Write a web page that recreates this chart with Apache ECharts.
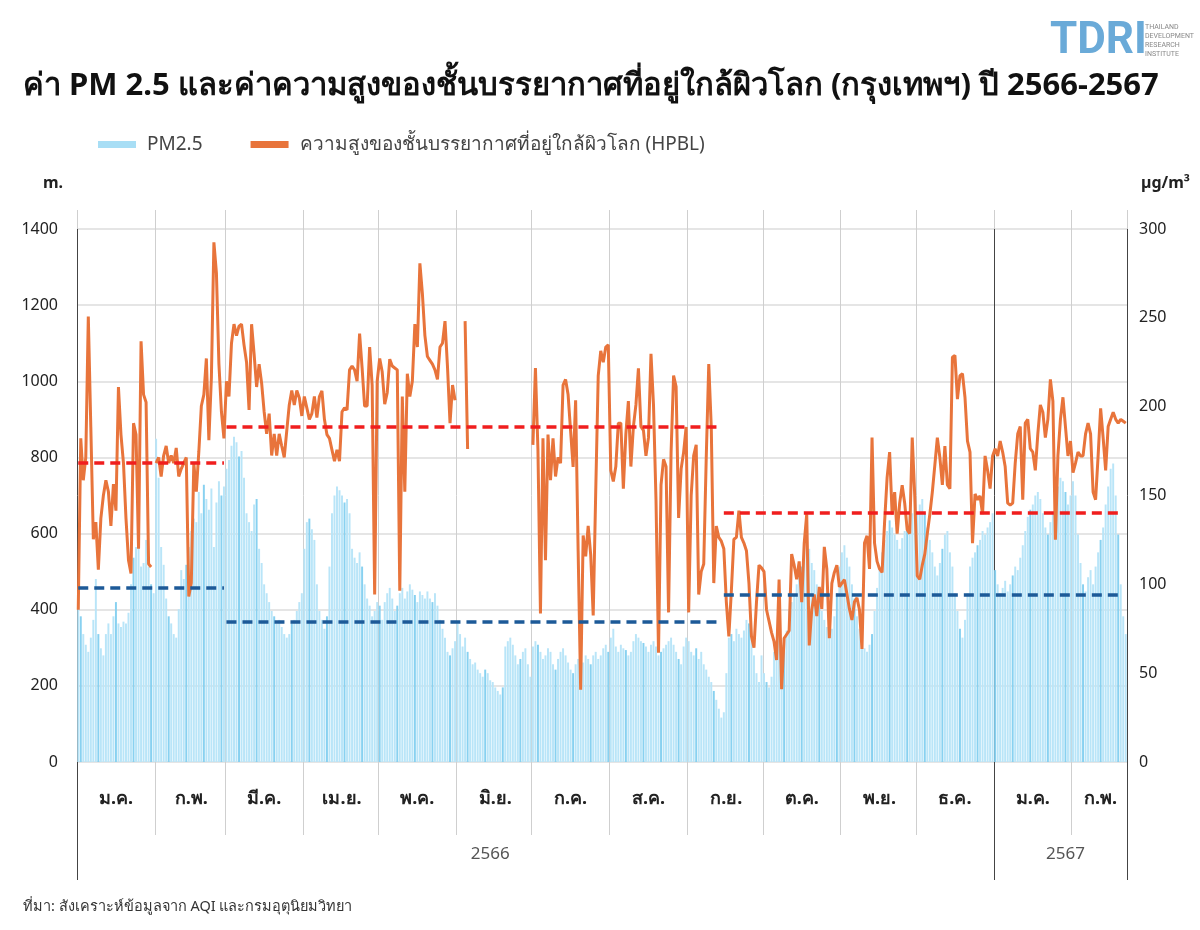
<!DOCTYPE html>
<html>
<head>
<meta charset="utf-8">
<title>PM2.5 และ HPBL กรุงเทพฯ 2566-2567</title>
<script src="https://cdn.jsdelivr.net/npm/echarts@6.0.0/dist/echarts.min.js"></script>
<style>
  html, body { margin: 0; padding: 0; background: #fff; }
  #chart { width: 1200px; height: 930px; }
</style>
</head>
<body>
<div id="chart"></div>
<script>
// เดือน (ม.ค. 2566 - ก.พ. 2567) และจำนวนวันที่มีข้อมูล
const monthNames = ['ม.ค.', 'ก.พ.', 'มี.ค.', 'เม.ย.', 'พ.ค.', 'มิ.ย.', 'ก.ค.', 'ส.ค.', 'ก.ย.', 'ต.ค.', 'พ.ย.', 'ธ.ค.', 'ม.ค.', 'ก.พ.']
const monthDays = [31, 28, 31, 30, 31, 30, 31, 31, 30, 31, 30, 31, 31, 22]
const monthYear = ['2566', '2566', '2566', '2566', '2566', '2566', '2566', '2566', '2566', '2566', '2566', '2566', '2567', '2567']
const yearNames = ['2566', '2567']

// ความสูงของชั้นบรรยากาศที่อยู่ใกล้ผิวโลก (เมตร) รายวัน
const hpblJan23 = [400, 850, 740, 800, 1170, 880, 585, 630, 505, 640, 700, 740, 710, 620, 730, 660, 985, 860, 785, 640, 530, 495, 890, 860, 560, 1105, 965, 945, 520, 512, null]
const hpblFeb23 = [785, 800, 750, 805, 830, 785, 805, 785, 825, 750, 770, 785, 800, 435, 470, 785, 710, 815, 935, 965, 1060, 845, 1010, 1365, 1285, 1045, 920, 850]
const hpblMar23 = [1000, 960, 1100, 1150, 1120, 1145, 1150, 1095, 1050, 925, 1150, 1072, 985, 1045, 995, 920, 862, 915, 805, 862, 805, 862, 830, 800, 870, 938, 976, 938, 976, 957, 909]
const hpblApr23 = [960, 930, 900, 915, 960, 905, 960, 975, 900, 860, 850, 820, 790, 820, 790, 920, 930, 925, 1030, 1040, 1030, 1000, 1125, 1035, 935, 935, 1090, 990, 440, 1000]
const hpblMay23 = [1060, 1025, 940, 970, 1058, 1040, 1035, 1030, 450, 960, 710, 1020, 960, 1000, 1150, 1090, 1310, 1230, 1120, 1065, 1055, 1045, 1030, 1005, 1090, 1100, 1158, 1037, 890, 990, 950]
const hpblJun23 = [null, null, null, 1158, 822, null, null, null, null, null, null, null, null, null, null, null, null, null, null, null, null, null, null, null, null, null, null, null, null, null]
const hpblJul23 = [833, 1035, 820, 390, 850, 530, 860, 740, 850, 750, 800, 785, 990, 1005, 965, 870, 775, 950, 555, 190, 595, 540, 620, 545, 385, 710, 1015, 1080, 1050, 1090, 1096]
const hpblAug23 = [766, 737, 776, 890, 890, 718, 862, 948, 776, 881, 938, 1034, 881, 871, 804, 852, 1072, 938, 689, 287, 728, 795, 776, 393, 814, 1015, 986, 641, 770, 814, 880]
const hpblSep23 = [393, 700, 805, 833, 440, 500, 520, 800, 1045, 880, 470, 620, 590, 580, 560, 420, 330, 450, 585, 590, 660, 590, 575, 555, 470, 330, 300, 420, 517, 510]
const hpblOct23 = [500, 400, 370, 340, 316, 268, 479, 191, 325, 335, 345, 546, 517, 480, 527, 420, 575, 651, 306, 400, 440, 383, 460, 402, 565, 507, 325, 469, 498, 517, 460]
const hpblNov23 = [470, 479, 441, 402, 373, 421, 431, 400, 297, 575, 594, 507, 852, 575, 527, 507, 498, 630, 747, 814, 650, 709, 600, 680, 727, 680, 610, 600, 852, 700]
const hpblDec23 = [489, 480, 517, 546, 600, 650, 709, 780, 852, 800, 728, 830, 728, 718, 1063, 1068, 953, 1015, 1020, 958, 843, 814, 575, 704, 689, 699, 651, 804, 766, 718, 804]
const hpblJan24 = [823, 804, 843, 814, 776, 680, 675, 680, 785, 862, 881, 689, 890, 900, 823, 814, 766, 862, 938, 919, 852, 900, 1005, 948, 584, 804, 900, 958, 881, 804, 843]
const hpblFeb24 = [760, 785, 814, 804, 804, 862, 890, 862, 709, 689, 804, 929, 852, 766, 881, 900, 919, 900, 890, 900, 895, 890]

// PM2.5 (µg/m³) รายวัน
const pmJan23 = [90, 82, 72, 66, 62, 70, 80, 103, 72, 64, 60, 72, 78, 72, 82, 90, 78, 76, 79, 78, 84, 100, 115, 121, 127, 110, 112, 125, 110, 100, 95]
const pmFeb23 = [182, 160, 121, 111, 92, 82, 78, 72, 70, 86, 108, 103, 111, 121, 130, 137, 135, 152, 140, 156, 148, 142, 154, 121, 146, 158, 150, 155]
const pmMar23 = [165, 170, 178, 183, 180, 172, 175, 160, 140, 135, 130, 145, 148, 120, 112, 100, 95, 90, 85, 82, 78, 80, 76, 72, 70, 72, 78, 80, 85, 90, 95]
const pmApr23 = [120, 135, 137, 131, 125, 100, 85, 80, 75, 82, 110, 140, 150, 155, 153, 150, 146, 148, 140, 120, 115, 112, 118, 110, 100, 92, 88, 82, 85, 90]
const pmMay23 = [88, 80, 90, 95, 98, 92, 85, 88, 95, 98, 92, 96, 100, 97, 94, 90, 96, 94, 92, 96, 92, 90, 95, 88, 80, 75, 70, 62, 60, 64, 68]
const pmJun23 = [78, 72, 65, 70, 62, 58, 55, 56, 52, 50, 48, 52, 50, 46, 45, 42, 40, 38, 42, 65, 68, 70, 66, 60, 55, 58, 62, 64, 55, 48]
const pmJul23 = [65, 68, 66, 62, 58, 60, 64, 62, 55, 52, 58, 62, 64, 60, 56, 52, 50, 55, 58, 54, 56, 60, 58, 55, 60, 62, 58, 60, 64, 66, 62]
const pmAug23 = [70, 75, 65, 62, 66, 64, 63, 60, 62, 68, 72, 70, 68, 67, 65, 62, 66, 68, 65, 60, 62, 64, 66, 68, 70, 66, 62, 58, 55, 65, 70]
const pmSep23 = [68, 62, 60, 64, 58, 62, 55, 52, 48, 45, 40, 35, 30, 25, 28, 50, 70, 72, 68, 75, 72, 70, 74, 80, 78, 70, 60, 50, 45, 60]
const pmOct23 = [50, 45, 42, 48, 62, 68, 72, 66, 70, 74, 85, 90, 94, 100, 105, 110, 118, 122, 120, 112, 108, 100, 92, 85, 80, 76, 72, 75, 82, 95, 110]
const pmNov23 = [118, 122, 115, 110, 100, 92, 82, 75, 68, 64, 62, 66, 72, 85, 98, 110, 118, 125, 130, 136, 132, 128, 125, 120, 126, 130, 134, 138, 140, 142]
const pmDec23 = [140, 145, 148, 140, 132, 125, 118, 110, 105, 112, 120, 128, 130, 118, 110, 95, 85, 75, 70, 80, 95, 110, 115, 118, 122, 125, 130, 128, 132, 135, 140]
const pmJan24 = [108, 100, 95, 98, 102, 96, 100, 105, 110, 108, 115, 122, 130, 138, 142, 145, 150, 152, 148, 140, 132, 128, 135, 140, 148, 155, 160, 158, 152, 145, 150]
const pmFeb24 = [158, 150, 128, 112, 100, 96, 104, 108, 100, 110, 118, 125, 132, 145, 155, 165, 168, 150, 128, 100, 82, 72]

// ค่าเฉลี่ยแต่ละช่วง (index วันเริ่ม/สิ้นสุด)
const periodStart = [0, 59, 257]
const periodEnd = [58, 256, 414]
const hpblAvg = [785, 880, 654]
const pmAvg = [98, 79, 94]

const hpbl = [].concat(hpblJan23, hpblFeb23, hpblMar23, hpblApr23, hpblMay23, hpblJun23, hpblJul23,
  hpblAug23, hpblSep23, hpblOct23, hpblNov23, hpblDec23, hpblJan24, hpblFeb24)
const pm25 = [].concat(pmJan23, pmFeb23, pmMar23, pmApr23, pmMay23, pmJun23, pmJul23,
  pmAug23, pmSep23, pmOct23, pmNov23, pmDec23, pmJan24, pmFeb24)

// แกน x เป็นรายวัน
const days = []
const monthStarts = []
const monthMids = {}
const yearStarts = []
monthDays.forEach((n, m) => {
  monthStarts.push(days.length)
  if (m === 0 || monthYear[m] !== monthYear[m - 1]) yearStarts.push(days.length)
  monthMids[days.length + Math.floor(n / 2)] = monthNames[m]
  for (let d = 1; d <= n; d++) days.push(monthYear[m] + '-' + (m + 1) + '-' + d)
})
const yearLabels = { 164: yearNames[0], 393: yearNames[1] }

const NAME_PM = 'PM2.5'
const NAME_HPBL = 'ความสูงของชั้นบรรยากาศที่อยู่ใกล้ผิวโลก (HPBL)'
const FONT = "'Noto Sans', 'DejaVu Sans', sans-serif"

const chart = echarts.init(document.getElementById('chart'))

const option = {
  animation: false,
  backgroundColor: '#fff',
  textStyle: { fontFamily: FONT },
  title: [
    {
      text: 'ค่า PM 2.5 และค่าความสูงของชั้นบรรยากาศที่อยู่ใกล้ผิวโลก (กรุงเทพฯ) ปี 2566-2567',
      left: 18,
      top: 66,
      textStyle: { fontSize: 31, fontWeight: 'bold', color: '#111', fontFamily: FONT },
    },
    { text: 'm.', left: 38, top: 170, textStyle: { fontSize: 16, fontWeight: 'bold', color: '#222' } },
    { text: 'µg/m³', left: 1136, top: 170, textStyle: { fontSize: 16, fontWeight: 'bold', color: '#222' } },
    {
      text: 'ที่มา: สังเคราะห์ข้อมูลจาก AQI และกรมอุตุนิยมวิทยา',
      left: 18,
      top: 894,
      textStyle: { fontSize: 14.5, fontWeight: 'normal', color: '#333' },
    },
  ],
  legend: {
    left: 93,
    top: 130,
    icon: 'rect',
    itemWidth: 38,
    itemHeight: 7,
    itemGap: 48,
    textStyle: { fontSize: 19, color: '#444', padding: [0, 0, 0, 6] },
    data: [
      { name: NAME_PM, itemStyle: { color: '#a8def5' } },
      { name: NAME_HPBL, itemStyle: { color: '#e8743b' } },
    ],
  },
  graphic: [
    {
      type: 'text',
      left: 1050,
      top: 20,
      style: { text: 'TDRI', fontSize: 44, fontWeight: 'bold', fill: '#6aaad8', fontFamily: "'Liberation Sans Narrow', 'Roboto', sans-serif" },
    },
    {
      type: 'text',
      left: 1145,
      top: 23,
      style: { text: 'THAILAND\nDEVELOPMENT\nRESEARCH\nINSTITUTE', fontSize: 7, lineHeight: 9, fill: '#888', fontFamily: "'Roboto', sans-serif" },
    },
  ],
  grid: { left: 77, right: 73, top: 229, bottom: 168 },
  xAxis: [
    {
      type: 'category',
      data: days,
      position: 'bottom',
      axisLine: { show: false, onZero: false },
      axisTick: {
        show: true,
        interval: (i) => monthStarts.includes(i),
        length: 73,
        lineStyle: { color: '#cfcfcf' },
      },
      axisLabel: {
        interval: (i) => monthMids[i] !== undefined,
        formatter: (v, i) => monthMids[i] || '',
        margin: 28,
        fontSize: 18,
        fontWeight: 'bold',
        color: '#222',
      },
      splitLine: {
        show: true,
        interval: (i) => monthStarts.includes(i),
        lineStyle: { color: '#cfcfcf' },
      },
    },
    {
      type: 'category',
      data: days,
      position: 'top',
      axisLine: { show: false, onZero: false },
      axisTick: {
        show: true,
        interval: (i) => monthStarts.includes(i),
        length: 19,
        lineStyle: { color: '#cfcfcf' },
      },
      axisLabel: { show: false },
      splitLine: { show: false },
    },
    {
      type: 'category',
      data: days,
      position: 'bottom',
      axisLine: { show: false, onZero: false },
      axisTick: {
        show: true,
        interval: (i) => yearStarts.includes(i),
        length: 118,
        lineStyle: { color: '#444' },
      },
      axisLabel: {
        interval: (i) => yearLabels[i] !== undefined,
        formatter: (v, i) => yearLabels[i] || '',
        margin: 84,
        fontSize: 17,
        color: '#555',
      },
      splitLine: {
        show: true,
        interval: (i) => yearStarts.includes(i),
        lineStyle: { color: '#444' },
      },
    },
  ],
  yAxis: [
    {
      type: 'value',
      min: 0,
      max: 1400,
      interval: 200,
      position: 'left',
      axisLine: { show: false },
      axisTick: { show: false },
      axisLabel: { fontSize: 16, color: '#222', margin: 19, formatter: (v) => String(v) },
      splitLine: { lineStyle: { color: '#dddddd', width: 1.5 } },
    },
    {
      type: 'value',
      min: 0,
      max: 300,
      interval: 50,
      position: 'right',
      axisLine: { show: false },
      axisTick: { show: false },
      axisLabel: { fontSize: 16, color: '#222', margin: 12 },
      splitLine: { show: false },
    },
  ],
  series: [
    {
      name: NAME_PM,
      type: 'bar',
      xAxisIndex: 0,
      yAxisIndex: 1,
      data: pm25,
      barCategoryGap: '22%',
      itemStyle: {
        color: (p) => (p.dataIndex % 7 === 1 ? '#88d1f0' : '#b9e5f8'),
      },
      markLine: {
        silent: true,
        symbol: 'none',
        label: { show: false },
        lineStyle: { color: '#1d5a98', type: [10, 6], width: 3.5 },
        data: periodStart.map((s, i) => [
          { coord: [days[s], pmAvg[i]] },
          { coord: [days[periodEnd[i]], pmAvg[i]] },
        ]),
      },
      z: 2,
    },
    {
      name: NAME_HPBL,
      type: 'line',
      xAxisIndex: 0,
      yAxisIndex: 0,
      data: hpbl,
      showSymbol: false,
      connectNulls: false,
      lineStyle: { color: '#e8743b', width: 3 },
      itemStyle: { color: '#e8743b' },
      markLine: {
        silent: true,
        symbol: 'none',
        label: { show: false },
        lineStyle: { color: '#f01e1e', type: [10, 6], width: 3.5 },
        data: periodStart.map((s, i) => [
          { coord: [days[s], hpblAvg[i]] },
          { coord: [days[periodEnd[i]], hpblAvg[i]] },
        ]),
      },
      z: 3,
    },
  ],
}

chart.setOption(option)
</script>
</body>
</html>
